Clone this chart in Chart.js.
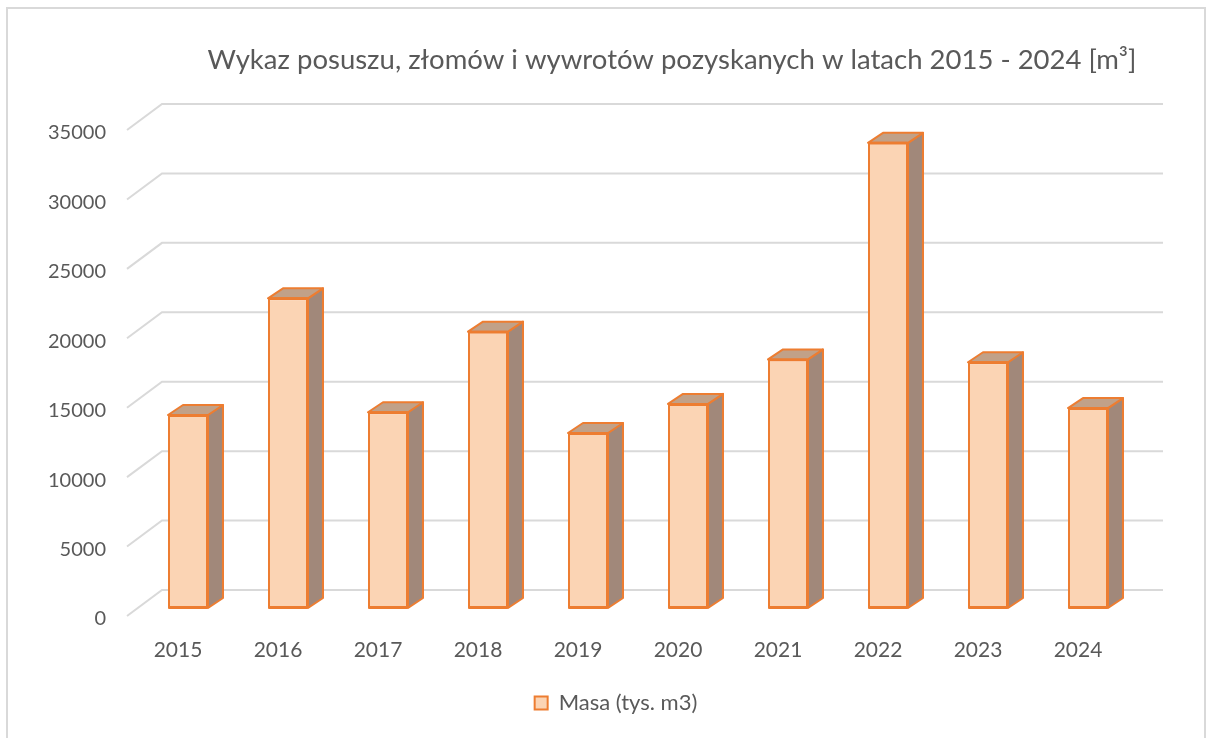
<!DOCTYPE html>
<html>
<head>
<meta charset="utf-8">
<script src="https://cdn.jsdelivr.net/npm/chart.js@4/dist/chart.umd.min.js"></script>
<style>
  html, body { margin: 0; padding: 0; background: #fff; }
  #wrap { width: 1213px; height: 738px; }
</style>
</head>
<body>
<div id="wrap"><canvas id="posusz"></canvas></div>
<script>
// data
const years = ['2015', '2016', '2017', '2018', '2019', '2020', '2021', '2022', '2023', '2024'];
const masa = [13900, 22300, 14100, 19900, 12600, 14700, 17900, 33500, 17700, 14400];
const yTicks = [0, 5000, 10000, 15000, 20000, 25000, 30000, 35000];

const chartTitle = 'Wykaz posuszu, złomów i wywrotów pozyskanych w latach 2015 - 2024 [m³]';
const seriesName = 'Masa (tys. m3)';

const FONT = 'Lato, "Open Sans", sans-serif';
const TEXT = '#595959';
const GRID = '#d9d9d9';
const ORANGE = '#ED7D31';
const FRONT = '#FBD4B4';
const TOP = '#C1A188';
const SIDE = '#A1887A';

// fake 3d depth of the bars and of the floor/walls
const depthX = 15, depthY = -10;

// outer frame + title
const framePlugin = {
    id: 'frame',
    beforeDraw(chart) {
        const ctx = chart.ctx;
        ctx.save();
        ctx.fillStyle = '#fff';
        ctx.fillRect(0, 0, chart.width, chart.height);
        ctx.strokeStyle = GRID;
        ctx.lineWidth = 2;
        ctx.strokeRect(7, 8, 1198, 760);
        ctx.fillStyle = TEXT;
        ctx.font = '27.5px ' + FONT;
        ctx.textAlign = 'center';
        ctx.textBaseline = 'middle';
        ctx.fillText(chartTitle, 672, 60);
        ctx.restore();
    }
};

// legend sits centred under the whole plot incl. the back wall
const legendShift = {
    id: 'legendShift',
    afterLayout(chart) {
        if (chart.legend) {
            chart.legend.left += 47;
            chart.legend.right += 47;
        }
    }
};

// slanted grid lines (front edge -> back wall)
const gridPlugin = {
    id: 'grid3d',
    beforeDatasetsDraw(chart) {
        const ctx = chart.ctx;
        const y = chart.scales.y;
        const area = chart.chartArea;
        ctx.save();
        ctx.strokeStyle = GRID;
        ctx.lineWidth = 2;
        yTicks.forEach((v) => {
            const p = y.getPixelForValue(v);
            ctx.beginPath();
            ctx.moveTo(area.left - 11, p + 8);
            ctx.lineTo(area.left + 24, p - 18);
            ctx.lineTo(area.right + 25, p - 18);
            ctx.stroke();
        });
        ctx.restore();
    }
};

// top and side faces of every bar
const boxPlugin = {
    id: 'box3d',
    afterDatasetsDraw(chart) {
        const ctx = chart.ctx;
        const meta = chart.getDatasetMeta(0);
        ctx.save();
        ctx.strokeStyle = ORANGE;
        ctx.lineWidth = 2;
        ctx.lineJoin = 'round';
        meta.data.forEach((bar) => {
            const p = bar.getProps(['x', 'y', 'base', 'width'], true);
            const l = p.x - p.width / 2;
            const r = p.x + p.width / 2;

            // side
            ctx.beginPath();
            ctx.moveTo(r, p.y);
            ctx.lineTo(r + depthX, p.y + depthY);
            ctx.lineTo(r + depthX, p.base + depthY);
            ctx.lineTo(r, p.base);
            ctx.closePath();
            ctx.fillStyle = SIDE;
            ctx.fill();
            ctx.stroke();

            // top
            ctx.beginPath();
            ctx.moveTo(l, p.y);
            ctx.lineTo(l + depthX, p.y + depthY);
            ctx.lineTo(r + depthX, p.y + depthY);
            ctx.lineTo(r, p.y);
            ctx.closePath();
            ctx.fillStyle = TOP;
            ctx.fill();
            ctx.stroke();

            // front outline again so it sits on top
            ctx.strokeRect(l + 1, p.y, p.width - 2, p.base - p.y);
        });
        ctx.restore();
    }
};

const ctx = document.getElementById('posusz').getContext('2d');

new Chart(ctx, {
    type: 'bar',
    data: {
        labels: years,
        datasets: [
            {
                label: seriesName,
                data: masa,
                backgroundColor: FRONT,
                borderColor: ORANGE,
                borderWidth: 2,
                borderSkipped: false,
                categoryPercentage: 0.8,
                barPercentage: 0.5,
            },
        ],
    },
    options: {
        responsive: true,
        maintainAspectRatio: false,
        animation: false,
        layout: {
            padding: { left: 0, right: 75, top: 122, bottom: 14 },
        },
        scales: {
            x: {
                grid: { display: false, drawTicks: false },
                border: { display: false },
                ticks: {
                    color: TEXT,
                    font: { family: FONT, size: 21 },
                    padding: 30,
                    labelOffset: -10,
                },
                afterFit: (scale) => { scale.height = 74; },
            },
            y: {
                min: 0,
                max: 35000,
                grid: { display: false, drawTicks: false },
                border: { display: false },
                ticks: {
                    stepSize: 5000,
                    color: TEXT,
                    font: { family: FONT, size: 20 },
                    padding: 32,
                    labelOffset: 11,
                    callback: (v) => String(v),
                },
                afterFit: (scale) => { scale.width = 138; },
            },
        },
        plugins: {
            legend: {
                position: 'bottom',
                labels: {
                    color: TEXT,
                    font: { family: FONT, size: 22 },
                    boxWidth: 13,
                    boxHeight: 13,
                    padding: 10,
                },
            },
            title: { display: false },
            tooltip: { enabled: false },
        },
    },
    plugins: [framePlugin, legendShift, gridPlugin, boxPlugin],
});
</script>
</body>
</html>
